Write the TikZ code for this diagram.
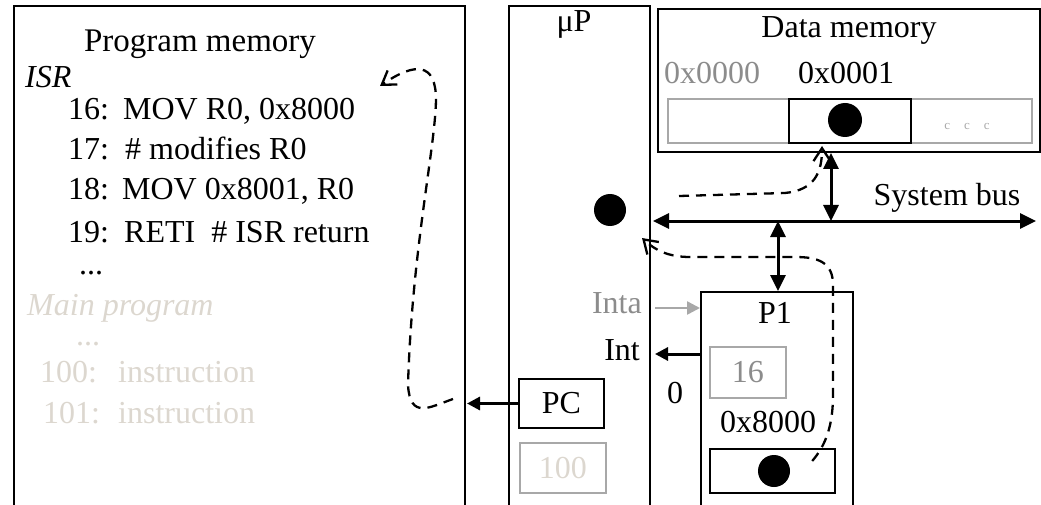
\documentclass[tikz,border=0pt]{standalone}
\usepackage{fontspec}
\setmainfont{Liberation Serif}
\usetikzlibrary{arrows.meta}
\definecolor{midgrey}{HTML}{8C8C8C}
\definecolor{rulegrey}{HTML}{A8A8A8}
\definecolor{paleink}{HTML}{DCD7CF}

\begin{document}
\begin{tikzpicture}[x=1pt, y=-1pt,
    font=\fontsize{32}{37}\selectfont,
    every node/.style={inner sep=0pt, text height=24pt, text depth=4pt},
    box/.style={draw, line width=2pt, rectangle, anchor=north west, text height=, text depth=},
    greybox/.style={draw=rulegrey, line width=1.7pt, rectangle, anchor=north west, text height=, text depth=},
    dot/.style={circle, fill, minimum size=32pt, text height=, text depth=},
    bus/.style={line width=3pt, {Triangle[length=16pt,width=15pt]}-{Triangle[length=16pt,width=15pt]}},
    sig/.style={line width=3pt, -{Triangle[length=13pt,width=13pt]}},
    flow/.style={line width=2.3pt, dash pattern=on 10pt off 7pt, -{Straight Barb[length=13pt,width=17pt]}}]
    \useasboundingbox (0,0) rectangle (1041,505);

    % Boxes
    \node[box, minimum width=451pt, minimum height=520pt] (progmem) at (13,5) {};
    \node[box, minimum width=141pt, minimum height=520pt] (cpu) at (508,5) {};
    \node[box, minimum width=382pt, minimum height=143pt] (datamem) at (657,8) {};
    \node[greybox, minimum width=364pt, minimum height=44pt] (strip) at (667,98) {};
    \node[box, minimum width=122pt, minimum height=44pt] (cell) at (788,98) {};
    \node[dot, minimum size=34pt] (celldot) at (845,120) {};
    \node[box, minimum width=152pt, minimum height=240pt] (pone) at (700,291) {};
    \node[greybox, minimum width=76pt, minimum height=51pt, text=midgrey] (reg) at (709,346) {16};
    \node[box, minimum width=125pt, minimum height=44pt] (port) at (709,448) {};
    \node[dot] (portdot) at (774,471) {};
    \node[box, minimum width=85pt, minimum height=49pt] (pc) at (518,378) {PC};
    \node[greybox, minimum width=86pt, minimum height=50pt, text=paleink] (pcold) at (519,442) {100};
    \node[dot] (cpudot) at (610,210) {};

    % Program memory
    \node (pmtitle) at (200,42) {\fontsize{33}{38}\selectfont Program memory};
    \node[anchor=west] (isr) at (25,78) {\itshape ISR};
    \node[anchor=west] (lineA) at (68,110) {\makebox[55pt][l]{16:}MOV R0, 0x8000};
    \node[anchor=west] (lineB) at (68,150) {\makebox[57pt][l]{17:}\# modifies R0};
    \node[anchor=west] (lineC) at (68,190) {\makebox[54pt][l]{18:}MOV 0x8001, R0};
    \node[anchor=west] (lineD) at (68,232) {\makebox[56pt][l]{19:}RETI \ \# ISR return};
    \node (moreA) at (91,264) {...};
    \node[anchor=west, text=paleink] (mainprog) at (27,305) {\itshape Main program};
    \node[text=paleink] (moreB) at (88,335) {...};
    \node[anchor=west, text=paleink] (lineE) at (40,372) {\makebox[78pt][l]{100:}instruction};
    \node[anchor=west, text=paleink] (lineF) at (43,413) {\makebox[75pt][l]{101:}instruction};

    % Processor, memory and port labels
    \node (cputitle) at (574,22) {μP};
    \node (dmtitle) at (849,28) {Data memory};
    \node[text=midgrey] (addrA) at (712,74) {0x0000};
    \node (addrB) at (846,74) {0x0001};
    \node[text=rulegrey, font=\fontsize{13}{15}\selectfont, text height=, text depth=] (morecells) at (967,127) {c\hspace{14pt}c\hspace{14pt}c};
    \node (busname) at (947,196) {System bus};
    \node (ponetitle) at (775,313) {P1};
    \node[anchor=east, text=midgrey] (inta) at (642,303) {Inta};
    \node[anchor=east] (int) at (640,350) {Int};
    \node (zero) at (675,393) {0};
    \node (portaddr) at (768,422) {0x8000};

    % Bus
    \coordinate (busL) at (653,221);
    \coordinate (busR) at (1036,221);
    \coordinate (dmtap) at (831,221);
    \coordinate (ptap) at (778,221);
    \draw[bus] (busL) -- (busR);
    \draw[bus] (dmtap |- datamem.south) -- (dmtap);
    \draw[bus] (ptap) -- (ptap |- pone.north);

    % Signals
    \draw[sig, draw=rulegrey, line width=2.5pt] ([xshift=4pt]cpu.east |- 0,308) -- (pone.west |- 0,308);
    \draw[sig] (pone.west |- 0,354) -- ([xshift=4pt]cpu.east |- 0,354);
    \draw[sig] (pc.west) -- ([xshift=1pt]pc.west -| progmem.east);

    % Data flow
    \coordinate (rdstart) at (679,196);
    \draw[flow] (rdstart) -- (785,193) .. controls (815,190) and (822,172) .. (822,146);
    \draw[flow] (portdot.east) ++(22,-10) .. controls (826,445) and (833,425) .. (833,395) -- (833,285)
        .. controls (833,262) and (818,257) .. (795,257) -- (690,257)
        .. controls (668,257) and (655,250) .. (642,238);
    \coordinate (jmpstart) at (453,399);
    \draw[flow] (jmpstart) .. controls (430,407) and (410,420) .. (408,385)
        .. controls (412,250) and (435,150) .. (436,100)
        .. controls (436,62) and (415,62) .. (380,86);
\end{tikzpicture}
\end{document}
